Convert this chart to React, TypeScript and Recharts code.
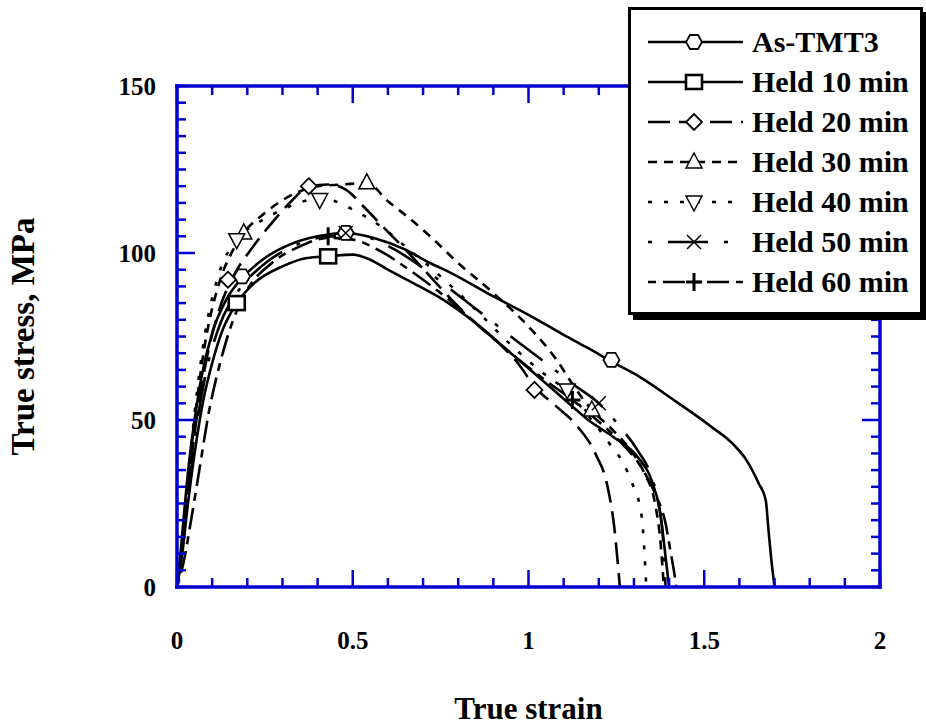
import { ComposedChart, Line, Scatter, XAxis, YAxis, Label } from "recharts";

const BLUE = "#0000d0";
const FONT = '"Liberation Serif", "Times New Roman", serif';

// axis ticks
const xTicks = [0, 0.1, 0.2, 0.3, 0.4, 0.5, 0.6, 0.7, 0.8, 0.9, 1, 1.1, 1.2, 1.3, 1.4, 1.5, 1.6, 1.7, 1.8, 1.9, 2];
const xLabels = ["0", "0.5", "1", "1.5", "2"];
const yTicks = [0, 5, 10, 15, 20, 25, 30, 35, 40, 45, 50, 55, 60, 65, 70, 75, 80, 85, 90, 95, 100, 105, 110, 115, 120, 125, 130, 135, 140, 145, 150];
const yLabels = ["0", "50", "100", "150"];

// [strain, stress]
const asTmt3 = [
  [0, 0], [0.01, 10], [0.02, 22], [0.035, 38], [0.05, 50], [0.07, 63], [0.1, 76], [0.14, 86], [0.19, 93],
  [0.25, 98.5], [0.32, 102.5], [0.4, 105], [0.48, 106], [0.56, 104.5], [0.65, 101], [0.72, 97], [0.78, 94],
  [0.9, 87], [1.0, 81.5], [1.1, 75.5], [1.17, 71.5], [1.236, 67.5], [1.315, 63], [1.42, 55.5], [1.52, 48],
  [1.58, 43], [1.62, 38], [1.655, 31], [1.675, 26], [1.682, 18], [1.69, 9], [1.7, 0],
];
const held10 = [
  [0, 0], [0.015, 10], [0.03, 24], [0.05, 40], [0.075, 56], [0.1, 67], [0.13, 77], [0.17, 85], [0.22, 91],
  [0.3, 96], [0.37, 98.5], [0.43, 99], [0.5, 99.5], [0.55, 98], [0.6, 95], [0.69, 90], [0.75, 86.5],
  [0.85, 79], [0.95, 70], [1.0, 65.5], [1.06, 60], [1.12, 54.5], [1.17, 50], [1.24, 45], [1.31, 39],
  [1.35, 32], [1.375, 22], [1.39, 9], [1.4, 0],
];
const held20 = [
  [0, 0], [0.015, 12], [0.03, 28], [0.05, 46], [0.08, 66], [0.12, 83], [0.16, 93], [0.21, 101], [0.27, 109],
  [0.33, 116], [0.375, 120], [0.43, 120.5], [0.48, 119], [0.53, 114], [0.58, 108.5], [0.65, 101], [0.72, 93],
  [0.8, 84], [0.86, 78], [0.93, 71.5], [0.97, 67], [1.017, 60], [1.08, 54], [1.14, 48], [1.19, 40],
  [1.225, 30], [1.245, 17], [1.255, 6], [1.26, 0],
];
const held30 = [
  [0, 0], [0.015, 14], [0.03, 30], [0.05, 50], [0.08, 73], [0.12, 91], [0.16, 101], [0.19, 106], [0.25, 112],
  [0.32, 117], [0.4, 120], [0.47, 120.5], [0.54, 121], [0.6, 115.5], [0.66, 110.5], [0.72, 105], [0.8, 97],
  [0.9, 88], [1.0, 78], [1.08, 68], [1.13, 60], [1.18, 53], [1.24, 47], [1.29, 41], [1.33, 34], [1.36, 25],
  [1.375, 14], [1.385, 0],
];
const held40 = [
  [0, 0], [0.015, 14], [0.03, 30], [0.05, 52], [0.08, 76], [0.12, 94], [0.17, 104], [0.23, 109], [0.3, 113],
  [0.36, 115.5], [0.406, 116.5], [0.45, 115.5], [0.5, 113], [0.58, 108], [0.66, 101], [0.75, 93], [0.85, 83],
  [0.95, 72.5], [1.03, 65], [1.11, 58.5], [1.18, 50], [1.23, 43], [1.27, 37], [1.295, 31], [1.315, 25],
  [1.325, 18], [1.33, 10], [1.335, 0],
];
const held50 = [
  [0, 0], [0.015, 11], [0.03, 26], [0.05, 44], [0.08, 63], [0.12, 78], [0.17, 88], [0.24, 96], [0.32, 101.5],
  [0.4, 104.5], [0.48, 106], [0.55, 104.5], [0.62, 101], [0.7, 95.5], [0.78, 89], [0.86, 82.5], [0.95, 75],
  [1.05, 67], [1.13, 60.5], [1.2, 55], [1.26, 48], [1.31, 41], [1.35, 33], [1.37, 25], [1.383, 14], [1.39, 0],
];
const held60 = [
  [0, 0], [0.02, 8], [0.04, 20], [0.065, 36], [0.09, 52], [0.12, 66], [0.16, 80], [0.2, 89], [0.27, 97],
  [0.35, 102], [0.43, 104.5], [0.5, 104], [0.58, 100.5], [0.66, 95], [0.75, 88], [0.85, 79], [0.95, 70],
  [1.04, 62.5], [1.125, 56], [1.2, 49.5], [1.27, 42.5], [1.32, 36], [1.36, 28], [1.39, 19], [1.405, 10],
  [1.415, 4], [1.42, 0],
];

// symbol positions
const asTmt3Marks = [[0.185, 93], [0.48, 106], [1.236, 68]];
const held10Marks = [[0.17, 85], [0.43, 99]];
const held20Marks = [[0.145, 92], [0.375, 120], [1.017, 59]];
const held30Marks = [[0.19, 106], [0.54, 121], [1.18, 53]];
const held40Marks = [[0.17, 104], [0.406, 116], [1.11, 59]];
const held50Marks = [[0.48, 106], [1.2, 55]];
const held60Marks = [[0.43, 105], [1.125, 56]];

const toXY = (pts: number[][]) => pts.map(([x, y]) => ({ x, y }));

const series = [
  { name: "As-TMT3", curve: asTmt3, marks: asTmt3Marks, dash: undefined, shape: "oct" },
  { name: "Held 10 min", curve: held10, marks: held10Marks, dash: undefined, shape: "square" },
  { name: "Held 20 min", curve: held20, marks: held20Marks, dash: "22 9", shape: "diamond" },
  { name: "Held 30 min", curve: held30, marks: held30Marks, dash: "9 7", shape: "triUp" },
  { name: "Held 40 min", curve: held40, marks: held40Marks, dash: "4 12", shape: "triDown" },
  { name: "Held 50 min", curve: held50, marks: held50Marks, dash: "4 16 40 16", shape: "cross" },
  { name: "Held 60 min", curve: held60, marks: held60Marks, dash: "8 7 22 7", shape: "plus" },
];

const Marker = ({ shape, cx, cy }: { shape: string; cx: number; cy: number }) => {
  const s = { fill: "#fff", stroke: "#000" };
  switch (shape) {
    case "oct":
      return (
        <path
          d={`M${cx - 8},${cy} L${cx - 4},${cy - 7} L${cx + 4},${cy - 7} L${cx + 8},${cy} L${cx + 4},${cy + 7} L${cx - 4},${cy + 7} Z`}
          {...s}
          strokeWidth={1.8}
        />
      );
    case "square":
      return <rect x={cx - 8} y={cy - 7} width={16} height={14} {...s} strokeWidth={2.6} />;
    case "diamond":
      return <path d={`M${cx},${cy - 8} L${cx + 8},${cy} L${cx},${cy + 8} L${cx - 8},${cy} Z`} {...s} strokeWidth={1.8} />;
    case "triUp":
      return <path d={`M${cx},${cy - 9} L${cx + 8},${cy + 6} L${cx - 8},${cy + 6} Z`} {...s} strokeWidth={1.5} />;
    case "triDown":
      return <path d={`M${cx},${cy + 9} L${cx + 8},${cy - 6} L${cx - 8},${cy - 6} Z`} {...s} strokeWidth={1.5} />;
    case "cross":
      return (
        <path d={`M${cx - 7},${cy - 7} L${cx + 7},${cy + 7} M${cx - 7},${cy + 7} L${cx + 7},${cy - 7}`} stroke="#000" strokeWidth={1.5} />
      );
    default:
      return <path d={`M${cx - 8},${cy} L${cx + 8},${cy} M${cx},${cy - 9} L${cx},${cy + 9}`} stroke="#000" strokeWidth={3} />;
  }
};

const isMajorX = (v: number) => Math.abs(v * 2 - Math.round(v * 2)) < 1e-6;
const isMajorY = (v: number) => v % 50 === 0;
const fmtX = (v: number) => xLabels[Math.round(v * 2)];
const fmtY = (v: number) => yLabels[Math.round(v / 50)];

const labelStyle = { fontFamily: FONT, fontWeight: 700, fontSize: 25, fill: "#000" };

const XTick = (p: any) => {
  const v = p.payload.value;
  const major = isMajorX(v);
  const len = major ? 17 : 9;
  const dir = p.side === "bottom" ? -1 : 1;
  return (
    <g>
      <line x1={p.x} x2={p.x} y1={p.y} y2={p.y + dir * len} stroke={BLUE} strokeWidth={2.5} />
      {p.side === "bottom" && major && (
        <text x={p.x} y={p.y + 62} textAnchor="middle" style={labelStyle}>
          {fmtX(v)}
        </text>
      )}
    </g>
  );
};

const YTick = (p: any) => {
  const v = p.payload.value;
  const major = isMajorY(v) && v !== 0 && v !== 150;
  const len = major ? 18 : 9;
  const dir = p.side === "left" ? 1 : -1;
  return (
    <g>
      <line x1={p.x} x2={p.x + dir * len} y1={p.y} y2={p.y} stroke={BLUE} strokeWidth={2.5} />
      {p.side === "left" && isMajorY(v) && (
        <text x={p.x - 21} y={p.y + 9} textAnchor="end" style={labelStyle}>
          {fmtY(v)}
        </text>
      )}
    </g>
  );
};

const titleStyle = { fontFamily: FONT, fontWeight: 700, fontSize: 31, fill: "#000" };

const LegendBox = () => (
  <div
    style={{
      position: "absolute",
      left: 628,
      top: 7,
      width: 295,
      height: 308,
      boxSizing: "border-box",
      border: "3px solid #000",
      background: "#fff",
      boxShadow: "5px 5px 0 #000",
    }}
  >
    <svg width={289} height={302}>
      {series.map((s, i) => {
        const cy = 32 + i * 40;
        return (
          <g key={s.name}>
            <line x1={17} x2={112} y1={cy} y2={cy} stroke="#000" strokeWidth={2.5} strokeDasharray={s.dash} />
            <Marker shape={s.shape} cx={63} cy={cy} />
            <text x={121} y={cy + 10} style={{ ...titleStyle, fontSize: 30 }}>
              {s.name}
            </text>
          </g>
        );
      })}
    </svg>
  </div>
);

export default function App() {
  return (
    <div style={{ position: "absolute", left: 0, top: 0, width: 926, height: 727, background: "#fff" }}>
      <ComposedChart width={926} height={727} margin={{ top: 76, right: 36, bottom: 80, left: 117 }}>
        <XAxis
          dataKey="x"
          type="number"
          domain={[0, 2]}
          ticks={xTicks}
          interval={0}
          allowDataOverflow
          height={60}
          tickSize={0}
          tickMargin={0}
          tickLine={false}
          axisLine={{ stroke: BLUE, strokeWidth: 3.5, strokeLinecap: "square" }}
          tick={(p: any) => <XTick {...p} side="bottom" />}
        >
          <Label
            content={(p: any) => (
              <text x={p.viewBox.x + p.viewBox.width / 2} y={p.viewBox.y + 132} textAnchor="middle" style={titleStyle}>
                True strain
              </text>
            )}
          />
        </XAxis>
        <XAxis
          xAxisId="top"
          orientation="top"
          dataKey="x"
          type="number"
          domain={[0, 2]}
          ticks={xTicks}
          interval={0}
          allowDataOverflow
          height={10}
          tickSize={0}
          tickMargin={0}
          tickLine={false}
          axisLine={{ stroke: BLUE, strokeWidth: 3.5, strokeLinecap: "square" }}
          tick={(p: any) => <XTick {...p} side="top" />}
        />
        <YAxis
          dataKey="y"
          type="number"
          domain={[0, 150]}
          ticks={yTicks}
          interval={0}
          allowDataOverflow
          width={60}
          tickSize={0}
          tickMargin={0}
          tickLine={false}
          axisLine={{ stroke: BLUE, strokeWidth: 3.5, strokeLinecap: "square" }}
          tick={(p: any) => <YTick {...p} side="left" />}
        >
          <Label
            content={(p: any) => {
              const cx = 34;
              const cy = p.viewBox.y + p.viewBox.height / 2;
              return (
                <text
                  x={cx}
                  y={cy}
                  transform={`rotate(-90 ${cx} ${cy})`}
                  textAnchor="middle"
                  style={{ ...titleStyle, fontSize: 33 }}
                >
                  True stress, MPa
                </text>
              );
            }}
          />
        </YAxis>
        <YAxis
          yAxisId="right"
          orientation="right"
          dataKey="y"
          type="number"
          domain={[0, 150]}
          ticks={yTicks}
          interval={0}
          allowDataOverflow
          width={10}
          tickSize={0}
          tickMargin={0}
          tickLine={false}
          axisLine={{ stroke: BLUE, strokeWidth: 3.5, strokeLinecap: "square" }}
          tick={(p: any) => <YTick {...p} side="right" />}
        />
        {series.map((s) => (
          <Line
            key={s.name}
            data={toXY(s.curve)}
            dataKey="y"
            type="monotone"
            stroke="#000"
            strokeWidth={2.6}
            strokeDasharray={s.dash}
            dot={false}
            activeDot={false}
            isAnimationActive={false}
          />
        ))}
        {series.map((s) => (
          <Scatter
            key={s.name + "-m"}
            data={toXY(s.marks)}
            dataKey="y"
            isAnimationActive={false}
            shape={(p: any) => <Marker shape={s.shape} cx={p.cx} cy={p.cy} />}
          />
        ))}
      </ComposedChart>
      <LegendBox />
    </div>
  );
}
